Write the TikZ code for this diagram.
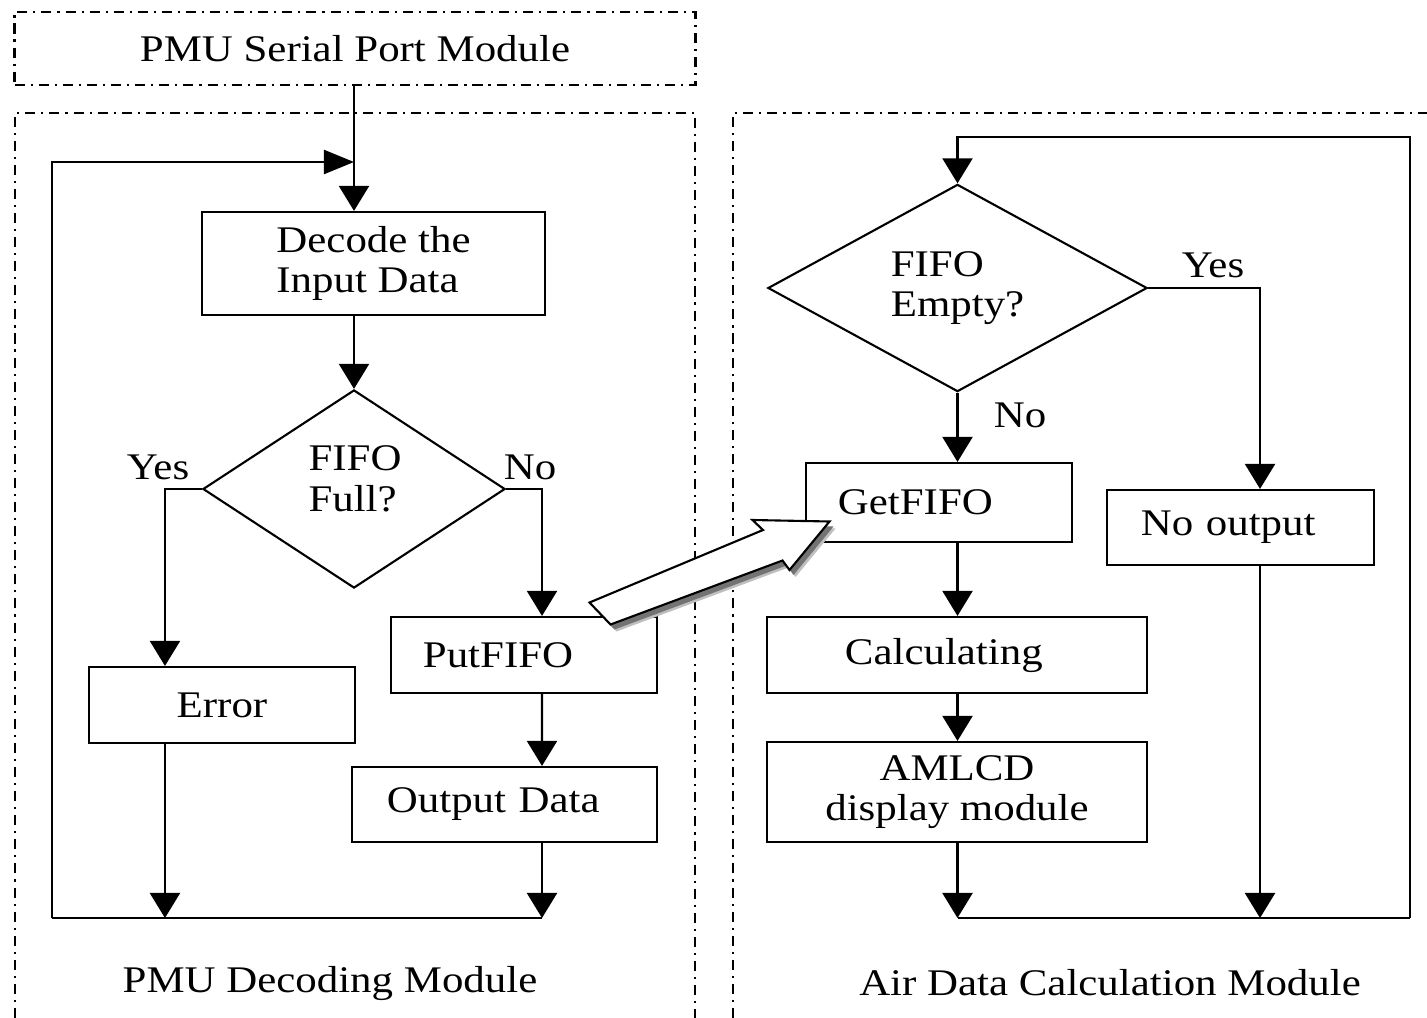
\documentclass[tikz,border=0pt]{standalone}
\usepackage{fontspec}
\setmainfont[FakeStretch=1.14]{Liberation Serif}
\usetikzlibrary{arrows.meta,shapes.geometric}
\begin{document}
\begin{tikzpicture}[x=0.01cm,y=-0.01cm,
  every node/.style={font=\fontsize{10.7}{11.6}\selectfont, inner sep=0pt},
  box/.style={draw, line width=0.6pt},
  modframe/.style={line width=0.75pt, dash pattern=on 2.85pt off 1.7pt on 0.6pt off 1.7pt},
  dec/.style={diamond, draw, line width=0.6pt, align=left},
  ln/.style={line width=0.6pt},
  arr/.style={line width=0.6pt, -{Triangle[length=0.25cm,width=0.3cm]}},
  arrh/.style={line width=0.6pt, -{Triangle[length=0.3cm,width=0.24cm]}},
  bigarrow/.style={draw, line width=0.6pt, fill=white, line join=miter}
]
\useasboundingbox (0,0) rectangle (1427,1018);

% module frames
\node[draw, modframe, minimum width=6.8cm, minimum height=0.73cm] (serial) at (355,48.5) {PMU Serial Port Module};
\draw[modframe] (15,1018) -- (15,113) -- (695,113) -- (695,1018);
\draw[modframe] (733,1018) -- (733,113) -- (1427,113);
\node (declab) at (330,983) {PMU Decoding Module};
\node (airlab) at (1110,983) {Air Data Calculation Module};

% left flow
\node[box, minimum width=3.43cm, minimum height=1.03cm, align=left] (decode) at (373.5,263.5) {Decode the\\Input Data};
\node[dec, minimum width=3.02cm, minimum height=1.98cm] (full) at (354,489) {};
\node[align=left] (fulltxt) at (355,479) {FIFO\\Full?};
\node[box, minimum width=2.66cm, minimum height=0.76cm] (err) at (222,705) {Error};
\node[box, minimum height=0.76cm, text width=2.02cm, inner xsep=0.32cm, align=left] (put) at (524,655) {PutFIFO};
\node[box, minimum height=0.75cm, text width=2.35cm, inner xsep=0.35cm, align=left] (out) at (504.5,804.5) {Output Data};
\node (yesL) at (158,467) {Yes};
\node (noL) at (530,467) {No};

\coordinate (loopL) at (52,918);
\coordinate (botL) at (542,918);
\coordinate (inJ) at (354,162);

\draw[arr] (serial.south -| full.north) -- (decode.north -| full.north);
\draw[arrh] (loopL) |- (inJ);
\draw[arr] (decode.south -| full.north) -- (full.north);
\draw[arr] (full.west) -| ([xshift=-0.57cm]err.north);
\draw[arr] (full.east) -| ([xshift=0.18cm]put.north);
\draw[arr] ([xshift=0.18cm]put.south) -- (botL |- out.north);
\draw[ln] (loopL) -- (botL);
\draw[arr] ([xshift=-0.57cm]err.south) -- ([xshift=-0.57cm]err.south |- botL);
\draw[arr] (botL |- out.south) -- (botL);

% right flow
\node[dec, minimum width=3.79cm, minimum height=2cm] (empty) at (957.5,288) {FIFO\\Empty?};
\node[box, minimum height=0.79cm, text width=2.02cm, inner xsep=0.32cm, align=left] (get) at (939,502.5) {GetFIFO};
\node[box, minimum height=0.75cm, text width=1.99cm, inner xsep=0.34cm, align=left] (noout) at (1240.5,527.5) {No output};
\node[box, minimum height=0.76cm, text width=2.24cm, inner xsep=0.78cm, align=left] (calc) at (957,655) {Calculating};
\node[box, minimum width=3.8cm, minimum height=1.0cm, align=center] (aml) at (957,792) {AMLCD\\display module};
\node (yesR) at (1213,265) {Yes};
\node (noR) at (1020,415) {No};

\coordinate (loopR) at (1410,918);
\coordinate (topR) at (1410,137);

\draw[arr] (loopR) -- (topR) -| (empty.north);
\draw[arr] (empty.east) -| ([xshift=0.195cm]noout.north);
\draw[arr] (empty.south) -- (get.north -| empty.south);
\draw[arr] (get.south -| empty.south) -- (calc.north -| empty.south);
\draw[arr] (calc.south -| empty.south) -- (aml.north -| empty.south);
\draw[arr] (aml.south -| empty.south) -- (empty.south |- loopR);
\draw[arr] ([xshift=0.195cm]noout.south) -- ([xshift=0.195cm]noout.south |- loopR);
\draw[ln] (empty.south |- loopR) -- (loopR);

% big hollow arrow between modules
\coordinate (ba1) at (589.5,602.5);
\coordinate (ba2) at (763,530);
\coordinate (ba3) at (752.5,520);
\coordinate (ba4) at (829.5,521.5);
\coordinate (ba5) at (789.5,570);
\coordinate (ba6) at (782.5,560.5);
\coordinate (ba7) at (610.5,624.5);
\fill[black!25] ([shift={(6,7)}]ba1) -- ([shift={(6,7)}]ba2) -- ([shift={(6,7)}]ba3) -- ([shift={(6,7)}]ba4) -- ([shift={(6,7)}]ba5) -- ([shift={(6,7)}]ba6) -- ([shift={(6,7)}]ba7) -- cycle;
\fill[black!55] ([shift={(4,5)}]ba1) -- ([shift={(4,5)}]ba2) -- ([shift={(4,5)}]ba3) -- ([shift={(4,5)}]ba4) -- ([shift={(4,5)}]ba5) -- ([shift={(4,5)}]ba6) -- ([shift={(4,5)}]ba7) -- cycle;
\draw[bigarrow] (ba1) -- (ba2) -- (ba3) -- (ba4) -- (ba5) -- (ba6) -- (ba7) -- cycle;
\end{tikzpicture}
\end{document}
